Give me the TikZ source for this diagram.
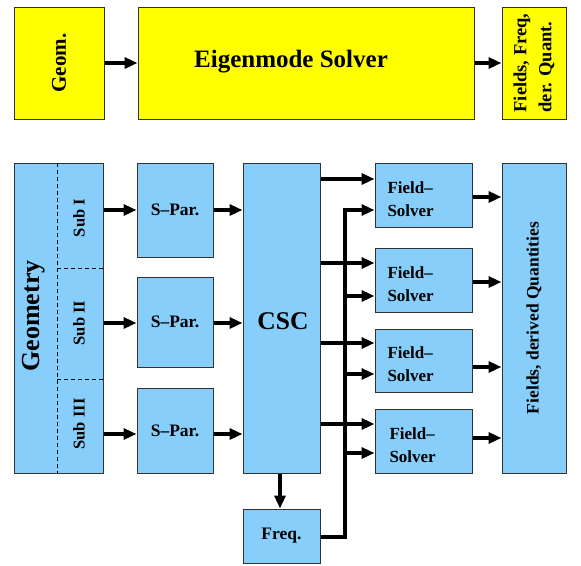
\documentclass[tikz,border=0pt]{standalone}
\usepackage{fontspec}
\setmainfont{Liberation Serif}
\usetikzlibrary{arrows.meta}
\definecolor{yel}{RGB}{255,255,0}
\definecolor{lblue}{RGB}{135,206,250}
\definecolor{bord}{RGB}{50,50,50}
\tikzset{
  ybox/.style={draw=bord,line width=1pt,fill=yel,inner sep=0pt,font=\bfseries},
  bbox/.style={draw=bord,line width=1pt,fill=lblue,inner sep=0pt,font=\bfseries},
  arr/.style={line width=3.5pt,-{Triangle[length=13pt,width=11pt]}},
  bus/.style={line width=3.5pt},
  sm/.style={font=\bfseries\fontsize{17.5}{22}\selectfont},
  lbl/.style={inner sep=0pt,font=\bfseries\fontsize{17.5}{22}\selectfont},
  fsbox/.style={bbox,minimum width=97pt,minimum height=64pt,text width=72pt,align=left,inner xsep=12.5pt,font=\bfseries\fontsize{17}{23}\selectfont}
}
\newcommand{\fstext}{\rule{0pt}{20pt}Field--\\Solver}
\begin{document}
\begin{tikzpicture}[x=1pt,y=-1pt]
\useasboundingbox (0,0) rectangle (581,565);
% top row
\node[ybox,minimum width=90pt,minimum height=112pt] (geom) at (59,63) {};
\node[lbl,rotate=90,font=\bfseries\fontsize{21}{24}\selectfont] (geomt) at (geom.center) {Geom.};
\node[ybox,minimum width=336pt,minimum height=112pt] (eig) at (306,63) {};
\node[lbl,font=\bfseries\fontsize{25}{28}\selectfont] (eigt) at (291,62) {Eigenmode Solver};
\node[ybox,minimum width=64pt,minimum height=112pt] (fout) at (534,63) {};
\node[lbl,rotate=90,align=left,font=\bfseries\fontsize{18.5}{25}\selectfont] (foutt) at (fout.center) {Fields, Freq,\\der. Quant.};
\draw[arr] (geom.east) -- (eig.west);
\draw[arr] (eig.east) -- (fout.west);
% geometry block
\node[bbox,minimum width=89pt,minimum height=310pt] (geo) at (58.5,318) {};
\coordinate (dv1) at (57,163);
\coordinate (dv2) at (57,473);
\draw[line width=0.9pt,dash pattern=on 4pt off 3pt] (dv1) -- (dv2);
\coordinate (dh1a) at (57,268); \coordinate (dh1b) at (103,268);
\coordinate (dh2a) at (57,379); \coordinate (dh2b) at (103,379);
\draw[line width=0.9pt,dash pattern=on 4pt off 3pt] (dh1a) -- (dh1b);
\draw[line width=0.9pt,dash pattern=on 4pt off 3pt] (dh2a) -- (dh2b);
\node[lbl,rotate=90,font=\bfseries\fontsize{26}{28}\selectfont] (geot) at (34,316) {Geometry};
\node[lbl,rotate=90,font=\bfseries\fontsize{16.5}{18}\selectfont] (s1) at (79,218) {Sub I};
\node[lbl,rotate=90,font=\bfseries\fontsize{16.5}{18}\selectfont] (s2) at (79,323) {Sub II};
\node[lbl,rotate=90,font=\bfseries\fontsize{16.5}{18}\selectfont] (s3) at (79,424) {Sub III};
% S-Par
\node[bbox,sm,minimum width=76pt,minimum height=94pt] (sp1) at (175,210) {S--Par.};
\node[bbox,sm,minimum width=76pt,minimum height=90pt] (sp2) at (175,322) {S--Par.};
\node[bbox,sm,minimum width=76pt,minimum height=85pt] (sp3) at (175,430.5) {S--Par.};
% CSC
\node[bbox,minimum width=77pt,minimum height=310pt] (csc) at (281.5,318) {};
\node[lbl,font=\bfseries\fontsize{25.5}{28}\selectfont] (csct) at (283,321) {CSC};
\node[bbox,sm,minimum width=77pt,minimum height=54pt] (freq) at (281.5,536) {Freq.};
% field solvers
\node[fsbox] (fs1) at (423.5,195) {\fstext};
\node[fsbox] (fs2) at (423.5,280) {\fstext};
\node[fsbox,minimum height=63pt] (fs3) at (423.5,360.5) {\fstext};
\node[fsbox,inner xsep=14.5pt,text width=68pt] (fs4) at (423.5,441) {\fstext};
% right output
\node[bbox,minimum width=64pt,minimum height=310pt] (res) at (534,318) {};
\node[lbl,rotate=90,font=\bfseries\fontsize{17.5}{20}\selectfont] (rest) at (res.center) {Fields, derived Quantities};
% arrows geometry -> S-Par -> CSC
\foreach \i/\y in {1/210,2/323,3/434}{
  \draw[arr] (geo.east |- 0,\y) -- (sp\i.west |- 0,\y);
  \draw[arr] (sp\i.east |- 0,\y) -- (csc.west |- 0,\y);
}
% CSC -> Freq
\draw[arr] (csc.south -| 280,0) -- (freq.north -| 280,0);
% CSC -> FS
\foreach \i/\y in {1/179,2/263,3/343,4/424}{
  \draw[arr] (csc.east |- 0,\y) -- (fs\i.west |- 0,\y);
}
% bus from freq
\coordinate (bt) at (345,208.3);
\coordinate (bb) at (345,537);
\draw[bus,line join=miter] (freq.east |- bb) -- (bb) -- (bt);
\foreach \i/\y in {1/210,2/296,3/374,4/453}{
  \draw[arr] (345,\y) -- (fs\i.west |- 0,\y);
}
% FS -> result
\foreach \i/\y in {1/197,2/282,3/367,4/438}{
  \draw[arr] (fs\i.east |- 0,\y) -- (res.west |- 0,\y);
}
\end{tikzpicture}
\end{document}
